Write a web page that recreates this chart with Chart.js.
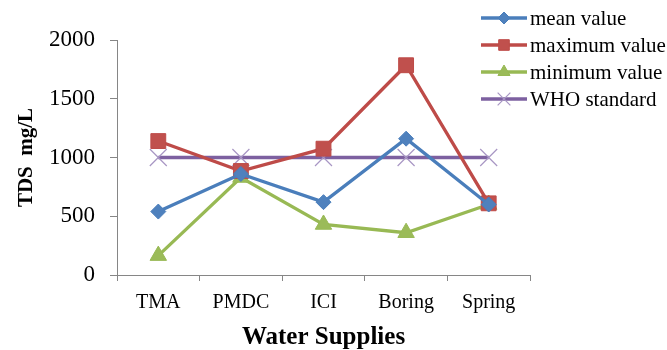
<!DOCTYPE html>
<html><head><meta charset="utf-8">
<script src="https://cdn.jsdelivr.net/npm/chart.js@4/dist/chart.umd.min.js"></script>
<style>html,body{margin:0;padding:0;background:#fff}#wrap{width:667px;height:350px;position:relative}canvas{display:block}</style>
</head><body><div id="wrap"><canvas id="c" width="667" height="350"></canvas></div>
<script>
const categories = ['TMA', 'PMDC', 'ICI', 'Boring', 'Spring'];
const meanValue = [540, 860, 620, 1160, 600];
const maximumValue = [1140, 885, 1075, 1785, 610];
const minimumValue = [165, 830, 430, 360, 600];
const whoStandard = [1000, 1000, 1000, 1000, 1000];
const seriesNames = ['mean value', 'maximum value', 'minimum value', 'WHO standard'];
const yTicks = [0, 500, 1000, 1500, 2000];
const xTitle = 'Water Supplies';
const yTitle = 'TDS  mg/L';

const SERIF = '"Liberation Serif", "Times New Roman", serif';

function drawMarker(ctx, style, x, y, r, fill, stroke, bw) {
  ctx.save();
  ctx.fillStyle = fill; ctx.strokeStyle = stroke; ctx.lineWidth = bw;
  ctx.beginPath();
  if (style === 'rectRot') {
    ctx.moveTo(x, y - r); ctx.lineTo(x + r, y); ctx.lineTo(x, y + r); ctx.lineTo(x - r, y); ctx.closePath();
    ctx.fill(); ctx.stroke();
  } else if (style === 'rect') {
    const s = r * Math.SQRT1_2;
    ctx.rect(x - s, y - s, 2 * s, 2 * s); ctx.fill(); ctx.stroke();
  } else if (style === 'triangle') {
    for (let k = 0; k < 3; k++) {
      const a = k * 2 * Math.PI / 3;
      const px = x + Math.sin(a) * r, py = y - Math.cos(a) * r;
      k === 0 ? ctx.moveTo(px, py) : ctx.lineTo(px, py);
    }
    ctx.closePath(); ctx.fill(); ctx.stroke();
  } else if (style === 'crossRot') {
    const d = r * Math.SQRT1_2;
    ctx.moveTo(x - d, y - d); ctx.lineTo(x + d, y + d);
    ctx.moveTo(x + d, y - d); ctx.lineTo(x - d, y + d);
    ctx.stroke();
  }
  ctx.restore();
}

const legendPlugin = {
  id: 'customLegend',
  afterDraw(chart) {
    const ctx = chart.ctx;
    const legendR = [6, 7.5, 7, 9];
    chart.data.datasets.forEach((ds, i) => {
      const y = 18 + 27 * i;
      ctx.save();
      ctx.strokeStyle = ds.borderColor; ctx.lineWidth = ds.borderWidth;
      ctx.beginPath(); ctx.moveTo(481, y); ctx.lineTo(527, y); ctx.stroke();
      drawMarker(ctx, ds.pointStyle, 504, y, legendR[i], ds.pointBackgroundColor, ds.pointBorderColor, ds.pointBorderWidth);
      ctx.fillStyle = '#000';
      ctx.font = '21px ' + SERIF;
      ctx.textBaseline = 'middle';
      ctx.textAlign = 'left';
      ctx.fillText(ds.label, 530, y + 1);
      ctx.restore();
    });
  }
};

new Chart(document.getElementById('c'), {
  type: 'line',
  data: {
    labels: categories,
    datasets: [
      { label: seriesNames[0], data: meanValue, borderColor: '#4A7EBB', borderWidth: 3.3,
        pointStyle: 'rectRot', pointRadius: 7.5, pointBackgroundColor: '#4F81BD', pointBorderColor: '#4A7EBB', pointBorderWidth: 1 },
      { label: seriesNames[1], data: maximumValue, borderColor: '#BE4B48', borderWidth: 3.3,
        pointStyle: 'rect', pointRadius: 10.5, pointBackgroundColor: '#C0504D', pointBorderColor: '#BE4B48', pointBorderWidth: 1 },
      { label: seriesNames[2], data: minimumValue, borderColor: '#98B954', borderWidth: 3.3,
        pointStyle: 'triangle', pointRadius: 9.5, pointBackgroundColor: '#9BBB59', pointBorderColor: '#98B954', pointBorderWidth: 1 },
      { label: seriesNames[3], data: whoStandard, borderColor: '#7D60A0', borderWidth: 3.3,
        pointStyle: 'crossRot', pointRadius: 12, pointBackgroundColor: '#B3A2C7', pointBorderColor: '#A896C4', pointBorderWidth: 1.2 }
    ]
  },
  options: {
    responsive: false,
    animation: false,
    devicePixelRatio: 1,
    layout: { padding: { left: 0, right: 137, top: 40, bottom: 0 } },
    plugins: { legend: { display: false }, tooltip: { enabled: false } },
    elements: { line: { tension: 0 } },
    scales: {
      x: {
        offset: true,
        grid: { offset: true, drawOnChartArea: false, drawTicks: true, tickLength: 6, color: '#868686' },
        border: { color: '#868686', width: 1 },
        ticks: { color: '#000', font: { family: SERIF, size: 20 }, padding: 10, maxRotation: 0 },
        title: { display: true, text: xTitle, color: '#000', font: { family: SERIF, size: 25, weight: 'bold' }, padding: { top: 0, bottom: -3 } },
        afterFit(s) { s.height = 75; }
      },
      y: {
        min: 0, max: 2000,
        afterBuildTicks(s) { s.ticks = yTicks.map(v => ({ value: v })); },
        grid: { drawOnChartArea: false, drawTicks: true, tickLength: 7, color: '#868686' },
        border: { color: '#868686', width: 1 },
        ticks: { color: '#000', font: { family: SERIF, size: 23 }, padding: 15, callback: v => String(v) },
        title: { display: true, text: yTitle, color: '#000', font: { family: SERIF, size: 21, weight: 'bold' }, padding: { top: 14, bottom: 4 } },
        afterFit(s) { s.width = 117; }
      }
    }
  },
  plugins: [legendPlugin]
});
</script>
</body></html>
